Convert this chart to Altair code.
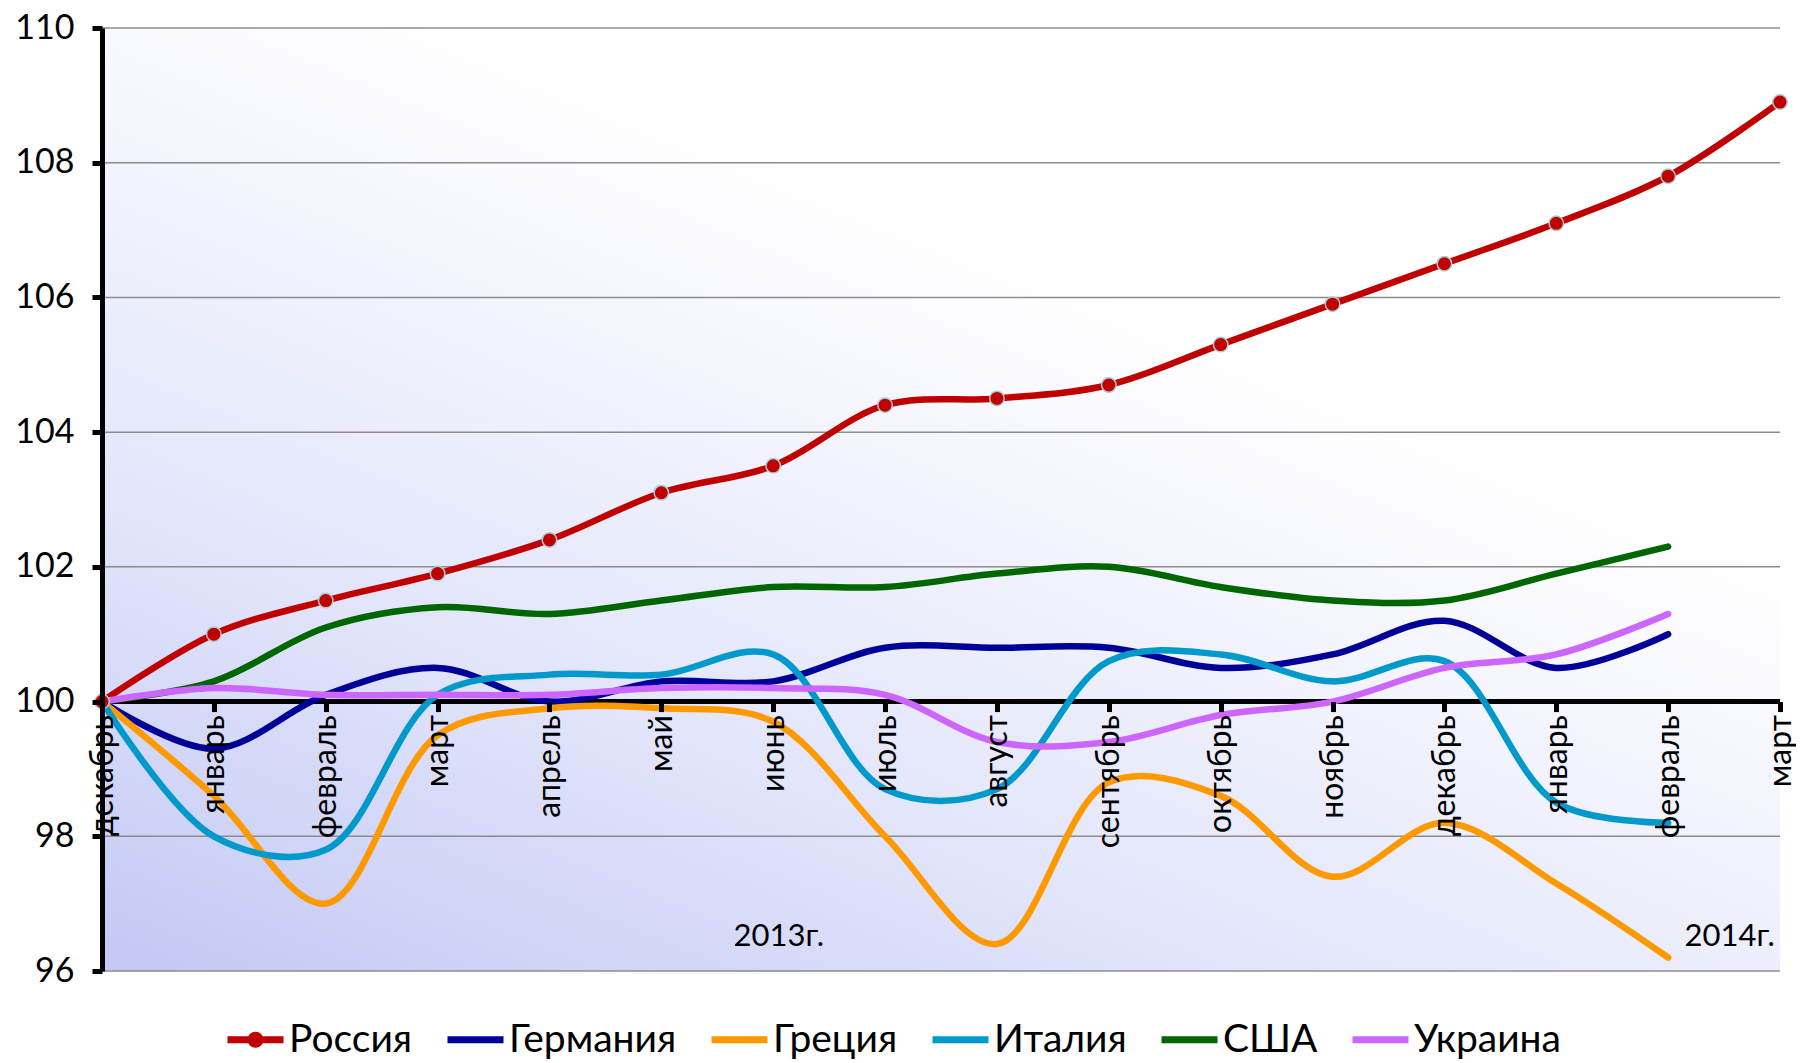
import altair as alt
import pandas as pd

months = ["декабрь", "январь", "февраль", "март", "апрель", "май", "июнь", "июль",
          "август", "сентябрь", "октябрь", "ноябрь", "декабрь", "январь", "февраль", "март"]

russia = [100, 101.0, 101.5, 101.9, 102.4, 103.1, 103.5, 104.4, 104.5, 104.7,
          105.3, 105.9, 106.5, 107.1, 107.8, 108.9]
germany = [100, 99.3, 100.1, 100.5, 100.0, 100.3, 100.3, 100.8, 100.8, 100.8,
           100.5, 100.7, 101.2, 100.5, 101.0]
greece = [100, 98.6, 97.0, 99.5, 99.9, 99.9, 99.7, 98.0, 96.4, 98.8,
          98.6, 97.4, 98.2, 97.3, 96.2]
italy = [100, 98.0, 97.8, 100.1, 100.4, 100.4, 100.7, 98.7, 98.7, 100.6,
         100.7, 100.3, 100.6, 98.5, 98.2]
usa = [100, 100.3, 101.1, 101.4, 101.3, 101.5, 101.7, 101.7, 101.9, 102.0,
       101.7, 101.5, 101.5, 101.9, 102.3]
ukraine = [100, 100.2, 100.1, 100.1, 100.1, 100.2, 100.2, 100.1, 99.4, 99.4,
           99.8, 100.0, 100.5, 100.7, 101.3]

countries = ["Россия", "Германия", "Греция", "Италия", "США", "Украина"]
colors = ["#C00000", "#000099", "#FF9900", "#0099CC", "#006600", "#CC66FF"]
series = [russia, germany, greece, italy, usa, ukraine]

year_labels = ["2013г.", "2014г."]
year_x = [6.05, 14.55]
year_y = [96.5, 96.5]

y_ticks = [96, 98, 100, 102, 104, 106, 108, 110]
baseline = [100]

rows = []
for name, vals in zip(countries, series):
    for i, v in enumerate(vals):
        rows.append({"country": name, "idx": i, "month": months[i], "value": v})
df = pd.DataFrame(rows)
ann = pd.DataFrame({"text": year_labels, "idx": year_x, "value": year_y})
grid_df = pd.DataFrame({"value": [t for t in y_ticks if t not in baseline]})
base_df = pd.DataFrame({"value": baseline})

W, H = 1678, 943
YMIN, YMAX = 96, 110
XMIN, XMAX = 0, len(months) - 1
x_offset = -(baseline[0] - YMIN) / (YMAX - YMIN) * H

FONT = "Lato"
label_expr = "[" + ",".join("'%s'" % m for m in months) + "][datum.value]"

x_scale = alt.Scale(domain=[XMIN, XMAX], nice=False, zero=False)
y_scale = alt.Scale(domain=[YMIN, YMAX], nice=False, zero=False)
color_scale = alt.Scale(domain=countries, range=colors)

x_axis = alt.Axis(values=list(range(len(months))), labelExpr=label_expr, labelAngle=270,
                  offset=x_offset, grid=False, domain=False,
                  tickColor="black", tickWidth=5, tickSize=10, labelFont=FONT,
                  labelFontSize=32, labelColor="black", labelPadding=3, title=None,
                  labelOverlap=False, labelLimit=400, zindex=1)
y_axis = alt.Axis(values=y_ticks, domainColor="black", domainWidth=5, tickColor="black",
                  tickWidth=5, tickSize=10, labelFont=FONT, labelFontSize=34,
                  labelColor="black", labelPadding=18, grid=False, title=None,
                  zindex=1)

russia_symbol = "M-1,0L1,0M0.16,0A0.16,0.16,0,1,1,-0.16,0A0.16,0.16,0,1,1,0.16,0Z"

legend = alt.Legend(
    title=None, orient="none", direction="horizontal", legendX=122, legendY=980,
    symbolType=alt.ExprRef("datum.value === 'Россия' ? '%s' : 'stroke'" % russia_symbol),
    symbolFillColor=alt.ExprRef("datum.value === 'Россия' ? '#C00000' : 'transparent'"),
    symbolSize=3136, symbolStrokeWidth=7, labelFont=FONT, labelLimit=400,
    labelFontSize=39, labelColor="black", labelOffset=2, columnPadding=20)

# soft background gradient inside the plot area
bg = alt.Chart(pd.DataFrame({"a": [0]})).mark_rect(
    color=alt.Gradient(gradient="linear", x1=0, y1=1, x2=0.55, y2=0.25,
                       stops=[alt.GradientStop(offset=0, color="#c3c8f4"),
                              alt.GradientStop(offset=0.45, color="#e3e6fb"),
                              alt.GradientStop(offset=1, color="#ffffff")])
).encode(
    x=alt.X(datum=XMIN, scale=x_scale, axis=x_axis),
    x2=alt.X2(datum=XMAX),
    y=alt.Y(datum=YMIN, scale=y_scale, axis=y_axis),
    y2=alt.Y2(datum=YMAX),
)

grid = alt.Chart(grid_df).mark_rule(color="#8c8c8c", strokeWidth=1.5).encode(
    y=alt.Y("value:Q", scale=y_scale, axis=y_axis),
)
axis_line = alt.Chart(base_df).mark_rule(color="black", strokeWidth=5).encode(
    y=alt.Y("value:Q", scale=y_scale, axis=y_axis),
)

base = alt.Chart(df)
layers = []
for i, name in enumerate(countries):
    layer = base.transform_filter(alt.datum.country == name).mark_line(
        interpolate="catmull-rom", strokeWidth=6.5, strokeCap="round"
    ).encode(
        x=alt.X("idx:Q", scale=x_scale, axis=x_axis),
        y=alt.Y("value:Q", scale=y_scale, axis=y_axis),
        color=alt.Color("country:N", scale=color_scale, legend=legend, sort=countries),
    )
    layers.append(layer)

points = base.transform_filter(alt.datum.country == "Россия").mark_point(
    filled=True, shape="circle", size=210, fill="#C00000", stroke="#A9CDD3",
    strokeWidth=1.5, opacity=1
).encode(
    x=alt.X("idx:Q", scale=x_scale, axis=x_axis),
    y=alt.Y("value:Q", scale=y_scale, axis=y_axis),
)

texts = alt.Chart(ann).mark_text(font=FONT, fontSize=31, color="black").encode(
    x=alt.X("idx:Q", scale=x_scale, axis=x_axis),
    y=alt.Y("value:Q", scale=y_scale, axis=y_axis),
    text="text:N",
)

chart = alt.layer(bg, grid, axis_line, *layers, points, texts).properties(
    width=W, height=H,
    padding={"left": 6, "top": 3, "right": 0, "bottom": 0},
    background="white",
).configure_view(stroke=None)

chart.save("out.html", embed_options={"renderer": "svg", "actions": False})
